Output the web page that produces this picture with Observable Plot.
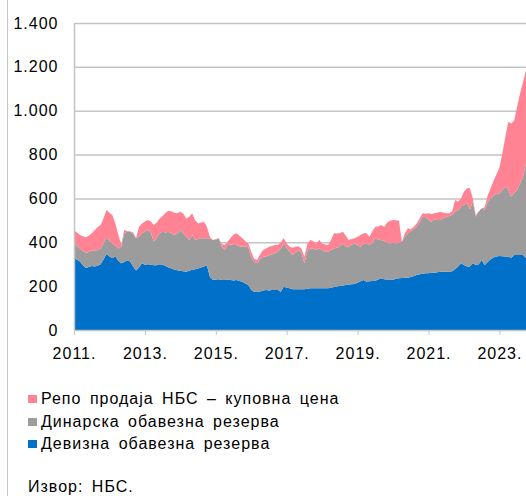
<!DOCTYPE html>
<html>
<head>
<meta charset="utf-8">
<script src="https://cdn.jsdelivr.net/npm/d3@7"></script>
<script src="https://cdn.jsdelivr.net/npm/@observablehq/plot@0.6"></script>
<style>
  html, body { margin: 0; padding: 0; background: #fff; }
  body { width: 526px; height: 496px; position: relative; overflow: hidden; font-family: "Liberation Sans", Arial, sans-serif; }
  #frame { position: absolute; left: 7px; top: 0; width: 0; height: 496px; border-left: 1px solid #c8c8c8; }
  #chart { position: absolute; left: 0; top: 0; }
  #legend { position: absolute; left: 28px; top: 388px; font-size: 16px; letter-spacing: 1px; word-spacing: 3px; color: #000; }
  .item { height: 22.5px; line-height: 22.5px; white-space: nowrap; display: flex; align-items: center; }
  .sw { width: 9px; height: 8px; margin-right: 4px; display: inline-block; }
  #source { position: absolute; left: 28px; top: 478px; font-size: 16px; letter-spacing: 1px; word-spacing: 3px; color: #000; white-space: nowrap; }
  #chart svg text { letter-spacing: 1px; }
</style>
</head>
<body>
<div id="frame"></div>
<div id="chart"></div>
<div id="legend"></div>
<div id="source">Извор: НБС.</div>
<script>
// Monthly data, January 2011 – October 2023 (RSD bn)
const startYear = 2011;
const seriesNames = [
  "Девизна обавезна резерва",
  "Динарска обавезна резерва",
  "Репо продаја НБС – куповна цена"
];
const seriesColors = ["#0070c8", "#9c9c9c", "#ff8393"];
const yTicks = [0, 200, 400, 600, 800, 1000, 1200, 1400];
const xTicks = [2011, 2013, 2015, 2017, 2019, 2021, 2023];

const devizna = [
  331,320,312,295,283,287,292,290,293,300,322,347,
  335,327,336,315,304,310,318,312,290,271,285,304,
  298,300,297,295,295,300,298,292,285,280,275,272,
  270,268,266,270,275,277,280,285,290,294,243,228,
  230,231,228,228,229,228,226,228,224,220,212,205,
  182,175,175,176,180,182,180,182,182,182,175,197,
  193,190,186,186,186,186,186,188,190,190,190,190,
  190,190,190,193,196,198,201,203,205,207,209,210,
  215,222,228,220,222,224,225,230,236,232,230,230,
  228,235,236,237,238,238,242,246,251,254,257,259,
  259,261,261,263,266,266,266,266,268,277,290,304,
  296,290,290,305,295,300,319,295,310,322,331,335,
  337,336,335,334,330,342,342,342,342,327
];
const dinarska = [
  64,65,60,65,69,69,70,70,72,72,73,78,
  70,68,49,57,76,131,130,136,150,147,140,137,
  152,156,148,108,125,141,150,153,163,160,158,168,
  186,172,159,140,158,133,135,133,128,124,175,182,
  182,187,152,137,159,162,162,160,158,160,168,173,
  148,135,129,149,154,153,160,163,168,175,197,198,
  182,167,156,169,179,164,118,172,182,180,175,182,
  175,167,167,172,176,177,179,192,175,173,181,185,
  170,158,167,172,168,171,193,182,174,173,168,165,
  172,160,162,166,187,203,208,214,220,236,260,256,
  243,233,244,239,236,244,249,254,256,263,255,258,
  274,288,260,280,222,240,236,252,270,278,281,285,
  286,302,318,306,278,283,296,327,358,433
];
const repo = [
  61,60,61,68,71,74,79,95,105,106,115,122,
  130,129,101,61,10,15,4,2,5,2,45,45,
  45,46,50,76,70,68,72,90,96,100,102,92,
  83,90,84,107,99,90,71,72,76,52,7,0,
  3,0,12,23,15,30,47,53,48,38,25,17,
  27,15,15,20,31,37,40,38,38,31,28,23,
  20,23,33,25,17,20,30,35,38,35,30,38,
  30,33,31,45,69,65,61,53,50,30,25,23,
  40,53,46,49,35,55,53,60,69,65,92,103,
  102,105,100,0,16,23,10,11,15,20,15,15,
  30,35,27,33,37,25,17,12,16,53,40,38,
  60,68,96,15,7,0,0,13,32,45,68,90,
  117,168,227,310,334,330,380,411,430,426
];

const values = [devizna, dinarska, repo];
const data = [];
values.forEach((arr, s) => {
  arr.forEach((v, i) => data.push({ t: startYear + i / 12, series: seriesNames[s], value: v }));
});
const lastT = startYear + (devizna.length - 1) / 12;

const fmt = d3.formatLocale({ decimal: ",", thousands: ".", grouping: [3], currency: ["", ""] }).format(",");

const chart = Plot.plot({
  width: 526,
  height: 372,
  marginLeft: 74,
  marginRight: 0,
  marginTop: 23,
  marginBottom: 42,
  style: { fontFamily: "Liberation Sans, Arial, sans-serif", fontSize: "16px", color: "#000", background: "transparent", overflow: "visible" },
  x: { domain: [startYear, lastT], ticks: xTicks, tickFormat: d => `${d}.`, tickSize: 5, tickPadding: 12, label: null },
  y: { domain: [0, 1400], ticks: yTicks, tickFormat: fmt, tickSize: 0, tickPadding: 16, label: null },
  color: { domain: seriesNames, range: seriesColors },
  marks: [
    Plot.gridY(yTicks.slice(1), { stroke: "#c4c4c4", strokeOpacity: 1, strokeWidth: 1.5 }),
    Plot.areaY(data, { x: "t", y: "value", fill: "series", z: "series", curve: "linear" }),
    Plot.ruleX([startYear], { stroke: "#c4c4c4", strokeWidth: 1.5 }),
    Plot.ruleY([0], { stroke: "#c4c4c4", strokeWidth: 1.5 }),
    Plot.axisX({ ticks: xTicks, tickFormat: d => `${d}.`, tickSize: 5, tickPadding: 12, stroke: "#c4c4c4", fontSize: 16 }),
    Plot.axisY({ ticks: yTicks, tickFormat: fmt, tickSize: 0, tickPadding: 16, fontSize: 16 })
  ]
});
document.getElementById("chart").appendChild(chart);

// legend (top series first)
const legend = document.getElementById("legend");
[2, 1, 0].forEach(s => {
  const row = document.createElement("div");
  row.className = "item";
  const sw = document.createElement("span");
  sw.className = "sw";
  sw.style.background = seriesColors[s];
  const tx = document.createElement("span");
  tx.textContent = seriesNames[s];
  row.appendChild(sw);
  row.appendChild(tx);
  legend.appendChild(row);
});
</script>
</body>
</html>
